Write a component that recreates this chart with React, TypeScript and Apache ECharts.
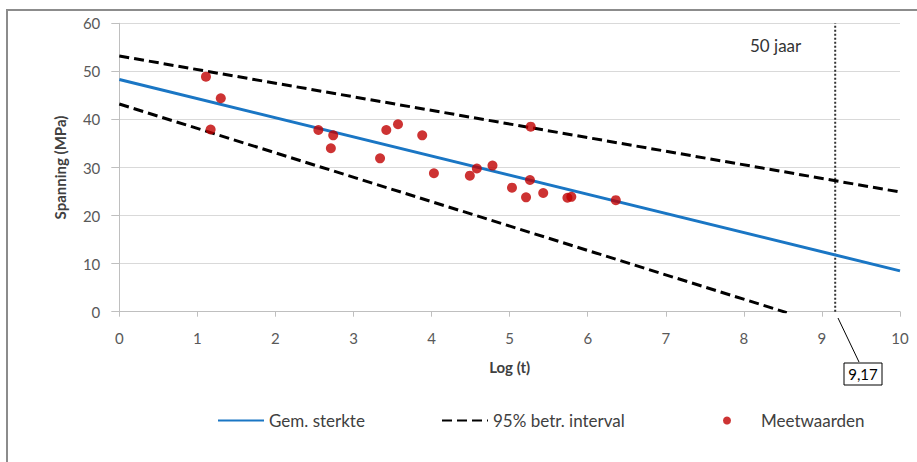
import React, { useEffect, useRef } from "react";
import * as echarts from "echarts";

const xTicks = [0, 1, 2, 3, 4, 5, 6, 7, 8, 9, 10];
const yTicks = [0, 10, 20, 30, 40, 50, 60];

const meanLine: [number, number][] = [[0, 48.3], [10, 8.5]];
const upperLine: [number, number][] = [[0, 53.2], [10, 24.9]];
const lowerLine: [number, number][] = [[0, 43.2], [8.55, -0.2]];
const limitLine: [number, number][] = [[9.17, 0], [9.17, 60]];

const measX = [1.11, 1.3, 1.17, 2.55, 2.74, 2.71, 3.34, 3.42, 3.57, 3.88, 4.03, 4.49, 4.58, 4.78, 5.27, 5.26, 5.03, 5.21, 5.43, 5.74, 5.79, 6.36];
const measY = [48.9, 44.4, 37.9, 37.8, 36.7, 34.0, 31.9, 37.8, 39.0, 36.7, 28.8, 28.3, 29.8, 30.4, 38.5, 27.4, 25.8, 23.8, 24.7, 23.7, 23.9, 23.2];

const seriesNames = ["Gem. sterkte", "95% betr. interval", "Meetwaarden"];
const limitLabel = "9,17";
const yearLabel = "50 jaar";

const FONT = "Lato, 'Open Sans', sans-serif";
const BLUE = "#1a76c4";
const RED = "#c00000";

export default function App() {
  const ref = useRef<HTMLDivElement>(null);
  useEffect(() => {
    if (!ref.current) return;
    const chart = echarts.init(ref.current, null, { renderer: "svg" });
    const legendText = { color: "#404040", fontSize: 17, fontFamily: FONT };
    const hiddenSym = { opacity: 0 };
    chart.setOption({
      animation: false,
      backgroundColor: "#ffffff",
      grid: { left: 119.3, right: 17, top: 23.3, bottom: 150.3 },
      legend: [
        { data: [seriesNames[0]], left: 212, top: 407, itemWidth: 46, itemHeight: 14, itemStyle: hiddenSym, textStyle: legendText, selectedMode: false },
        { data: [seriesNames[1]], left: 436, top: 407, itemWidth: 46, itemHeight: 14, itemStyle: hiddenSym, textStyle: legendText, selectedMode: false },
        { data: [seriesNames[2]], left: 718, top: 407, itemWidth: 46, itemHeight: 8, textStyle: { ...legendText, padding: [0, 0, 0, 6] }, selectedMode: false },
      ],
      xAxis: {
        type: "value",
        min: xTicks[0],
        max: xTicks[xTicks.length - 1],
        interval: 1,
        name: "Log (t)",
        nameLocation: "middle",
        nameGap: 48,
        nameTextStyle: { fontFamily: FONT, fontWeight: "bold", fontSize: 15, color: "#404040" },
        axisLine: { lineStyle: { color: "#bfbfbf", width: 1 } },
        axisTick: { show: true, length: 5, lineStyle: { color: "#bfbfbf" } },
        axisLabel: { fontFamily: FONT, fontSize: 15, color: "#595959", margin: 19 },
        splitLine: { show: false },
      },
      yAxis: {
        type: "value",
        min: yTicks[0],
        max: yTicks[yTicks.length - 1],
        interval: 10,
        name: "Spanning (MPa)",
        nameLocation: "middle",
        nameGap: 52,
        nameTextStyle: { fontFamily: FONT, fontWeight: "bold", fontSize: 15, color: "#404040" },
        axisLine: { show: true, lineStyle: { color: "#bfbfbf", width: 1 } },
        axisTick: { show: true, length: 8, lineStyle: { color: "#bfbfbf" } },
        axisLabel: { fontFamily: FONT, fontSize: 15, color: "#595959", margin: 19 },
        splitLine: { show: true, lineStyle: { color: "#d9d9d9", width: 1 } },
      },
      series: [
        {
          name: seriesNames[0],
          type: "line",
          data: meanLine,
          symbol: "none",
          lineStyle: { color: BLUE, width: 3 },
          itemStyle: { color: BLUE },
          z: 3,
        },
        {
          name: seriesNames[1],
          type: "line",
          data: upperLine,
          symbol: "none",
          lineStyle: { color: "#000000", width: 3, type: [10, 5] },
          itemStyle: { color: "#000000" },
          z: 3,
        },
        {
          name: seriesNames[1],
          type: "line",
          data: lowerLine,
          symbol: "none",
          lineStyle: { color: "#000000", width: 3, type: [10, 5] },
          itemStyle: { color: "#000000" },
          z: 3,
        },
        {
          name: "limit",
          type: "line",
          data: limitLine,
          symbol: "none",
          lineStyle: { color: "#333333", width: 2, type: [2, 2] },
          z: 2,
        },
        {
          name: seriesNames[2],
          type: "scatter",
          data: measX.map((x, i) => [x, measY[i]]),
          symbol: "circle",
          symbolSize: 10,
          itemStyle: { color: RED },
          z: 4,
        },
      ],
      graphic: [
        {
          type: "rect",
          shape: { x: 7, y: 10, width: 920, height: 470 },
          style: { fill: "none", stroke: "#8c8c8c", lineWidth: 2 },
          silent: true,
        },
        {
          type: "text",
          left: 750,
          top: 37,
          style: { text: yearLabel, fontFamily: FONT, fontSize: 17, fill: "#333333" },
        },
        {
          type: "line",
          shape: { x1: 838, y1: 318, x2: 859, y2: 362 },
          style: { stroke: "#000000", lineWidth: 1 },
        },
        {
          type: "rect",
          shape: { x: 844, y: 363, width: 38, height: 22 },
          style: { fill: "#ffffff", stroke: "#000000", lineWidth: 1 },
        },
        {
          type: "text",
          x: 863,
          y: 374,
          style: { text: limitLabel, fontFamily: FONT, fontSize: 15, fill: "#000000", align: "center", verticalAlign: "middle" },
        },
      ],
    });
    return () => chart.dispose();
  }, []);
  return (
    <div
      ref={ref}
      style={{ position: "absolute", left: 0, top: 0, width: 917, height: 462, background: "#fff" }}
    />
  );
}
